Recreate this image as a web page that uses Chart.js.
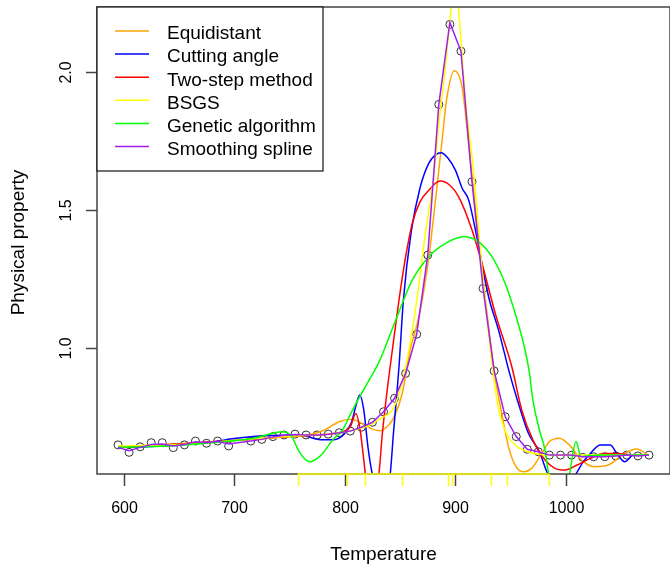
<!DOCTYPE html>
<html lang="en">
<head>
    <meta charset="UTF-8">
    <title>Physical property vs Temperature</title>
    <style>
        html, body { margin: 0; padding: 0; background: #fff; overflow: hidden; }
        .chart-box { width: 675px; height: 573px; }
    </style>
    <script src="https://cdn.jsdelivr.net/npm/chart.js"></script>
</head>
<body>
    <div class="chart-box"><canvas id="myChart"></canvas></div>

    <script>
        // measured points (circles)
        const obsX = [595, 605, 615, 625, 635, 645, 655, 665, 675, 685, 695,
            715, 725, 735, 745, 755, 765, 775, 785, 795, 805, 815, 825, 835, 845,
            855, 865, 875, 885, 895, 905, 915, 925, 935, 945, 955, 965, 975, 985,
            995, 1005, 1015, 1025, 1035, 1045, 1055, 1065, 1075];
        const obsY = [0.649, 0.622, 0.642, 0.657, 0.657, 0.639, 0.649, 0.663, 0.655, 0.663, 0.645,
            0.663, 0.669, 0.679, 0.685, 0.688, 0.685, 0.685, 0.688, 0.693, 0.699, 0.713, 0.731, 0.769, 0.818,
            0.908, 1.050, 1.337, 1.883, 2.173, 2.076, 1.603, 1.216, 0.917, 0.751, 0.679, 0.633, 0.624, 0.612,
            0.612, 0.612, 0.604, 0.606, 0.606, 0.609, 0.612, 0.609, 0.612];

        // Equidistant
        const equiX = [595, 620, 650, 680, 710, 740, 765, 780, 795, 806, 816, 825, 832, 838, 844, 852, 859, 864,
            870, 876, 882, 888, 892, 899, 906, 911, 916, 925, 935, 943, 948, 954, 961, 969, 978, 985, 994,
            1003, 1014, 1026, 1038, 1053, 1064, 1075];
        const equiY = [0.640, 0.648, 0.652, 0.660, 0.668, 0.676, 0.684, 0.700, 0.733, 0.742, 0.725, 0.706, 0.700, 0.715, 0.745, 0.836, 0.993, 1.065,
            1.174, 1.330, 1.536, 1.754, 1.899, 2.005, 1.947, 1.778, 1.584, 1.250, 0.920, 0.739, 0.642, 0.576, 0.552, 0.564, 0.618, 0.661, 0.673,
            0.649, 0.594, 0.570, 0.576, 0.618, 0.634, 0.609];

        // Cutting angle
        const cutX = [595, 620, 650, 680, 700, 720, 745, 765, 778, 790, 800, 806, 810, 813.5, 817, 821, 825, 832, 838, 841,
            844, 849, 853, 860, 868, 876, 882, 887, 893, 900, 906, 912, 920, 930, 939, 949, 956, 966, 976, 982,
            990, 1000, 1010, 1016, 1022, 1031, 1040, 1046, 1053, 1061, 1075];
        const cutY = [0.640, 0.642, 0.650, 0.660, 0.672, 0.680, 0.684, 0.680, 0.668, 0.668, 0.690, 0.730, 0.790, 0.830, 0.780, 0.640, 0.540, 0.450, 0.480, 0.540,
            0.691, 0.932, 1.174, 1.420, 1.580, 1.670, 1.700, 1.708, 1.690, 1.645, 1.580, 1.536, 1.390, 1.186, 1.065, 0.908, 0.812, 0.691, 0.624, 0.558,
            0.500, 0.480, 0.550, 0.590, 0.618, 0.649, 0.649, 0.618, 0.588, 0.612, 0.612];

        // Two-step method
        const twoX = [595, 640, 700, 750, 790, 800, 805, 810, 814, 817, 820, 826, 831, 834, 838, 843, 849, 855, 861, 868,
            876, 886, 895, 903, 915, 924, 936, 951, 960, 970, 981, 990, 999, 1010, 1022, 1034, 1046, 1061, 1075];
        const twoY = [0.640, 0.650, 0.665, 0.680, 0.690, 0.700, 0.715, 0.763, 0.700, 0.600, 0.500, 0.450, 0.550, 0.691, 0.836, 0.993, 1.174, 1.330, 1.452, 1.530,
            1.572, 1.605, 1.590, 1.548, 1.428, 1.307, 1.126, 0.932, 0.775, 0.667, 0.594, 0.564, 0.558, 0.576, 0.600, 0.618, 0.618, 0.612, 0.612];

        // BSGS
        const bsgsX = [595, 650, 700, 750, 790, 810, 822, 835, 843, 850, 858, 866, 873, 880, 886, 891, 896, 899, 902, 905,
            909, 916, 925, 937, 945, 955, 965, 975, 990, 1020, 1075];
        const bsgsY = [0.645, 0.650, 0.665, 0.680, 0.690, 0.705, 0.720, 0.751, 0.775, 0.848, 0.993, 1.200, 1.420, 1.609, 1.850, 2.020, 2.225, 2.300, 2.260, 2.120,
            1.900, 1.657, 1.250, 0.824, 0.700, 0.645, 0.625, 0.615, 0.612, 0.612, 0.612];
        const bsgsKnots = [757.5, 802, 818, 852, 893, 897, 932, 947, 984.5];

        // Genetic algorithm
        const gaX = [595, 640, 690, 720, 734, 744, 752, 758, 765, 769, 775, 780, 789, 798, 804, 813, 822, 831, 846, 861,
            876, 891, 907, 921, 933, 945, 954, 963, 967, 970, 976, 981, 984, 993, 1003, 1009, 1013.5, 1020, 1040, 1075];
        const gaY = [0.640, 0.645, 0.660, 0.675, 0.690, 0.697, 0.679, 0.630, 0.594, 0.588, 0.600, 0.618, 0.667, 0.703, 0.751, 0.820, 0.884, 0.950, 1.101, 1.246,
            1.331, 1.379, 1.403, 1.385, 1.331, 1.234, 1.126, 0.993, 0.908, 0.812, 0.703, 0.630, 0.550, 0.450, 0.543, 0.661, 0.606, 0.610, 0.612, 0.612];

        // Smoothing spline
        const splX = [595, 605, 615, 625, 635, 645, 655, 665, 675, 685, 695,
            715, 725, 735, 745, 755, 765, 775, 785, 795, 805, 815, 825, 835, 845,
            855, 865, 875, 885, 895, 905, 915, 925, 935, 945, 955, 965, 975, 985,
            995, 1005, 1015, 1025, 1035, 1045, 1055, 1065, 1075];
        const splY = [0.640, 0.628, 0.640, 0.650, 0.652, 0.645, 0.650, 0.660, 0.657, 0.662, 0.652,
            0.663, 0.669, 0.678, 0.684, 0.687, 0.685, 0.685, 0.688, 0.693, 0.699, 0.713, 0.731, 0.769, 0.818,
            0.908, 1.050, 1.337, 1.883, 2.180, 2.076, 1.603, 1.216, 0.917, 0.751, 0.679, 0.633, 0.624, 0.612,
            0.612, 0.612, 0.606, 0.606, 0.606, 0.609, 0.612, 0.609, 0.612];

        const seriesNames = ['Equidistant', 'Cutting angle', 'Two-step method', 'BSGS', 'Genetic algorithm', 'Smoothing spline'];
        const seriesColors = ['#FFA500', '#0000FF', '#FF0000', '#FFFF00', '#00FF00', '#A020F0'];

        const xTicks = [600, 700, 800, 900, 1000];
        const yTicks = [1.0, 1.5, 2.0];

        const font = '"Liberation Sans", Arial, sans-serif';

        function toXY(xs, ys) {
            return xs.map((x, i) => ({ x: x, y: ys[i] }));
        }

        // R-style box, axes, rug and legend
        const basePlotPlugin = {
            id: 'basePlot',
            beforeDraw: function(chart) {
                const ctx = chart.ctx;
                ctx.save();
                ctx.fillStyle = '#fff';
                ctx.fillRect(0, 0, chart.width, chart.height);
                ctx.restore();
            },
            afterDraw: function(chart) {
                const ctx = chart.ctx;
                const a = chart.chartArea;
                const xs = chart.scales.x;
                const ys = chart.scales.y;
                ctx.save();

                // box
                ctx.strokeStyle = '#444';
                ctx.lineWidth = 1.5;
                ctx.strokeRect(a.left, a.top, a.right - a.left, a.bottom - a.top);

                // x axis ticks + labels
                ctx.fillStyle = '#000';
                ctx.font = '16px ' + font;
                ctx.textAlign = 'center';
                ctx.textBaseline = 'alphabetic';
                xTicks.forEach(v => {
                    const px = Math.round(xs.getPixelForValue(v)) + 0.5;
                    ctx.beginPath();
                    ctx.moveTo(px, a.bottom);
                    ctx.lineTo(px, a.bottom + 12);
                    ctx.stroke();
                    ctx.fillText(String(v), px, a.bottom + 39);
                });

                // y axis ticks + rotated labels
                yTicks.forEach(v => {
                    const py = Math.round(ys.getPixelForValue(v)) + 0.5;
                    ctx.beginPath();
                    ctx.moveTo(a.left, py);
                    ctx.lineTo(a.left - 11, py);
                    ctx.stroke();
                    ctx.save();
                    ctx.translate(a.left - 26, py);
                    ctx.rotate(-Math.PI / 2);
                    ctx.fillText(v.toFixed(1), 0, 0);
                    ctx.restore();
                });

                // axis titles
                ctx.font = '19px ' + font;
                ctx.fillText('Temperature', (a.left + a.right) / 2, 560);
                ctx.save();
                ctx.translate(24, (a.top + a.bottom) / 2 + 2);
                ctx.rotate(-Math.PI / 2);
                ctx.fillText('Physical property', 0, 0);
                ctx.restore();

                // rug of BSGS knots
                ctx.strokeStyle = '#FFFF00';
                ctx.lineWidth = 1.5;
                const k0 = xs.getPixelForValue(bsgsKnots[0]);
                const k1 = xs.getPixelForValue(bsgsKnots[bsgsKnots.length - 1]);
                ctx.beginPath();
                ctx.moveTo(k0, a.bottom);
                ctx.lineTo(k1, a.bottom);
                ctx.stroke();
                bsgsKnots.forEach(v => {
                    const px = Math.round(xs.getPixelForValue(v)) + 0.5;
                    ctx.beginPath();
                    ctx.moveTo(px, a.bottom);
                    ctx.lineTo(px, a.bottom + 12);
                    ctx.stroke();
                });

                // legend
                const lx = a.left, ly = a.top, lw = 226, lh = 164;
                ctx.fillStyle = '#fff';
                ctx.fillRect(lx, ly, lw, lh);
                ctx.strokeStyle = '#111';
                ctx.lineWidth = 1.2;
                ctx.strokeRect(lx, ly, lw, lh);
                ctx.font = '19px ' + font;
                ctx.textAlign = 'left';
                ctx.fillStyle = '#000';
                seriesNames.forEach((name, i) => {
                    const yy = 31 + i * 23.1;
                    ctx.strokeStyle = seriesColors[i];
                    ctx.lineWidth = 1.5;
                    ctx.beginPath();
                    ctx.moveTo(115, yy);
                    ctx.lineTo(149, yy);
                    ctx.stroke();
                    ctx.fillText(name, 167, 39.3 + i * 23.1);
                });

                ctx.restore();
            }
        };

        const curveX = [equiX, cutX, twoX, bsgsX, gaX, splX];
        const curveY = [equiY, cutY, twoY, bsgsY, gaY, splY];

        const datasets = seriesNames.map((name, i) => ({
            label: name,
            data: toXY(curveX[i], curveY[i]),
            showLine: true,
            borderColor: seriesColors[i],
            backgroundColor: seriesColors[i],
            borderWidth: 1.5,
            pointRadius: 0,
            tension: i === 5 ? 0 : 0.4,
            cubicInterpolationMode: i === 5 ? 'default' : 'monotone',
            order: 6 - i
        }));

        datasets.push({
            label: 'observed',
            data: toXY(obsX, obsY),
            showLine: false,
            pointRadius: 4,
            pointStyle: 'circle',
            borderColor: '#333',
            borderWidth: 1,
            backgroundColor: 'rgba(0,0,0,0)',
            order: 10
        });

        new Chart(document.getElementById('myChart').getContext('2d'), {
            type: 'scatter',
            data: { datasets: datasets },
            options: {
                responsive: true,
                maintainAspectRatio: false,
                animation: false,
                layout: { padding: { left: 97, top: 7, right: 2, bottom: 99 } },
                plugins: {
                    legend: { display: false },
                    tooltip: { enabled: false }
                },
                scales: {
                    x: { type: 'linear', min: 576, max: 1094, display: false },
                    y: { type: 'linear', min: 0.5435, max: 2.236, display: false }
                }
            },
            plugins: [basePlotPlugin]
        });
    </script>
</body>
</html>
